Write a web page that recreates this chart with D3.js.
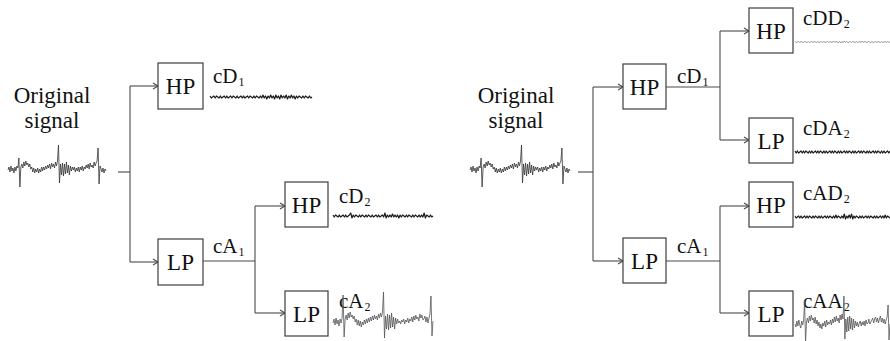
<!DOCTYPE html>
<html>
<head>
<script src="https://cdn.jsdelivr.net/npm/d3@7"></script>
</head>
<body style="margin:0">
<svg id="chart" width="890" height="341"></svg>
<script>
// ---- signal samples (amplitude units, baseline = 0) ----
const originalSignal = [0,3,-2,4,-1,2,-3,3,-1,4,
  2,12,-17,3,6,2,8,4,9,5,
  7,3,6,1,3,-2,2,-3,1,-2,
  2,-3,1,-2,3,-1,3,0,4,1,
  5,2,6,1,7,3,6,2,8,4,
  9,25,-13,6,-5,7,-6,6,-4,8,
  -3,5,-5,4,-1,3,0,3,-2,2,
  -1,3,-2,3,0,4,-1,3,1,5,
  2,6,1,7,3,5,2,8,4,7,
  9,22,-14,4,1,-2,2,-3,1,-1];

const cA2 = [0,4,-2,5,-1,3,-3,4,0,5,
  28,-14,4,8,3,10,5,11,6,8,
  4,7,1,4,-2,3,-3,2,-4,1,
  -2,3,-1,4,0,5,1,6,2,7,
  3,8,4,7,3,9,5,10,6,11,
  31,-15,7,-6,9,-7,8,-5,10,-4,
  6,-6,5,-1,4,0,2,-1,3,1,
  4,-1,3,1,5,0,4,2,6,1,
  7,3,8,4,6,2,9,5,8,3,
  4,7,1,6,0,5,9,27,-13,2];

const cAA2 = [1,-2,4,-1,5,0,-3,4,0,5,
  24,-17,3,7,2,9,4,10,5,7,
  2,8,1,5,-1,3,-3,1,-4,2,
  -1,4,-2,5,0,3,1,5,0,6,
  2,8,3,9,4,7,2,10,5,11,
  6,29,-14,6,-7,8,-6,9,-4,7,
  -5,6,-3,4,-1,3,-2,2,4,-1,
  3,0,4,-1,5,1,2,6,1,3,
  5,7,2,6,8,3,7,2,6,9,
  3,7,2,6,1,5,8,20,-15,1];

const cD1 = [1,-1,0,1,-1,1,0,-1,1,-1,
  0,1,-1,1,-1,0,1,-1,1,0,
  -1,1,-1,0,1,-1,1,-1,0,1,
  -1,1,0,-1,1,-1,1,0,-1,1,
  -1,2,-1,1,-2,1,-1,2,-1,1,
  -2,2,-1,1,-2,2,-1,1,-1,2,
  -2,1,-1,2,-1,1,-2,1,-1,1,
  0,-1,1,-1,1,0,-1,1,-1,0];

const cD2 = [1,-1,1,0,-1,1,-1,0,1,-1,
  1,-1,0,1,3,-2,1,-1,1,0,
  -1,1,-1,1,0,-1,1,-1,1,0,
  -1,1,-1,0,1,-1,1,-1,0,1,
  -1,3,-2,1,-1,1,-1,2,-1,1,
  -1,1,-2,1,-1,1,0,-1,1,-1,
  1,0,-1,1,-1,1,0,-1,1,-1,
  1,-1,3,-2,1,0,-1,1,-1,0];

const cDD2 = [0.5,-0.5,0,0.5,-0.5,0.5,0,-0.5,0.5,0,
  -0.5,0.5,-0.5,0,0.5,-0.5,0.5,0,-0.5,0.5,
  -0.5,0,0.5,-0.5,0.5,-0.5,0,0.5,-0.5,0.5,
  0,-0.5,1,-0.5,0.5,0,-0.5,0.5,-1,0.5,
  -0.5,1,-0.5,0.5,-0.5,0,0.5,-0.5,0.5,0,
  -0.5,0.5,-0.5,0,0.5,-0.5,1,-0.5,0.5,0,
  -0.5,0.5,0,-0.5,0.5,-0.5,0,0.5,-0.5,0.5,
  0,-0.5,0.5,-0.5,0,0.5,-0.5,0.5,0,-0.5];

const cDA2 = [1,-1,1,-1,0,1,-1,1,-1,1,
  0,-1,1,-1,1,-1,0,1,-1,1,
  -1,1,0,-1,1,-1,1,-1,0,1,
  -1,1,-1,1,0,-1,1,-1,1,-1,
  0,1,-1,1,-1,1,0,-1,1,-1,
  1,-1,0,1,-1,1,-1,1,0,-1,
  1,-1,1,-1,0,1,-1,1,-1,1,
  0,-1,1,-1,1,-1,0,1,-1,1];

const cAD2 = [1,-1,0,1,-1,1,-1,0,1,-1,
  1,-1,1,0,-1,1,-1,1,0,-1,
  1,-1,1,-1,0,1,-1,1,-1,1,
  0,-1,1,-1,2,-1,1,0,-1,1,
  -1,3,-2,1,-1,2,-1,3,-2,1,
  -1,1,0,-1,1,-1,1,-1,0,1,
  -1,1,-1,1,0,-1,1,-1,1,-1,
  0,1,-1,1,-1,2,-1,1,0,-1];

// ---- drawing ----
const svg = d3.select("#chart");
const ink = "#111";
const wire = "#4a4a4a";

// one waveform: samples spread over [x0,x1], baseline at yc
function waveform(values, x0, x1, yc, color, width) {
  const x = d3.scaleLinear().domain([0, values.length - 1]).range([x0, x1]);
  const y = d3.scaleLinear().domain([-1, 1]).range([yc + 1, yc - 1]);
  svg.append("path")
    .datum(values)
    .attr("fill", "none")
    .attr("stroke", color)
    .attr("stroke-width", width)
    .attr("stroke-linejoin", "round")
    .attr("d", d3.line().x((d, i) => x(i)).y(d => y(d)));
}

function addText(x, y, size, str, anchor) {
  const t = svg.append("text")
    .attr("x", x).attr("y", y)
    .attr("font-size", size)
    .attr("fill", ink)
    .attr("text-anchor", anchor || "start")
    .style("font-family", "Liberation Serif");
  if (str !== null) t.text(str);
  return t;
}

function box(x0, y0, x1, y1, label) {
  svg.append("rect")
    .attr("x", x0).attr("y", y0)
    .attr("width", x1 - x0).attr("height", y1 - y0)
    .attr("fill", "#fff").attr("stroke", "#3c3c3c").attr("stroke-width", 1.2);
  addText((x0 + x1) / 2, (y0 + y1) / 2 + 8, 23, label, "middle");
}

function wirePath(points) {
  svg.append("path")
    .attr("d", d3.line()(points))
    .attr("fill", "none").attr("stroke", wire).attr("stroke-width", 1.1);
}

function arrow(x0, x1, y) {
  wirePath([[x0, y], [x1, y]]);
  wirePath([[x1 - 5, y - 3], [x1, y], [x1 - 5, y + 3]]);
}

function coeffLabel(x, y, main, sub) {
  const t = addText(x, y, 21, null);
  t.append("tspan").text(main);
  t.append("tspan").attr("font-size", 12).attr("dy", 3).attr("dx", 1).text(sub);
}

function titleText(cx) {
  addText(cx, 103, 23, "Original", "middle");
  addText(cx, 128, 23, "signal", "middle");
}

// ===== Left: two-level wavelet decomposition =====
titleText(52);
waveform(originalSignal, 8, 106, 170, "#333", 0.8);
wirePath([[118, 172], [130, 172]]);
wirePath([[130, 86], [130, 262]]);
arrow(130, 158, 86);
arrow(130, 158, 262);
box(158, 63, 203, 109, "HP");
box(158, 239, 203, 285, "LP");
coeffLabel(213, 83, "cD", "1");
waveform(cD1, 210, 312, 97, "#1a1a1a", 1.2);

wirePath([[203, 261], [255, 261]]);
coeffLabel(213, 253, "cA", "1");
wirePath([[255, 206], [255, 313]]);
arrow(255, 285, 206);
arrow(255, 285, 313);
box(285, 182, 328, 227, "HP");
box(285, 291, 328, 336, "LP");
coeffLabel(339, 203, "cD", "2");
waveform(cD2, 333, 433, 216, "#1a1a1a", 1.2);
coeffLabel(339, 308, "cA", "2");
waveform(cA2, 333, 433, 323, "#555", 0.8);

// ===== Right: full wavelet packet tree =====
titleText(516);
waveform(originalSignal, 470, 570, 170, "#333", 0.8);
wirePath([[578, 172], [593, 172]]);
wirePath([[593, 87], [593, 261]]);
arrow(593, 623, 87);
arrow(593, 623, 261);
box(623, 64, 666, 109, "HP");
box(623, 238, 666, 283, "LP");

// detail branch
wirePath([[666, 87], [720, 87]]);
coeffLabel(677, 83, "cD", "1");
wirePath([[720, 31], [720, 140]]);
arrow(720, 749, 31);
arrow(720, 749, 140);
box(749, 8, 793, 53, "HP");
box(749, 118, 793, 163, "LP");
coeffLabel(803, 25, "cDD", "2");
waveform(cDD2, 795, 890, 42, "#777", 0.8);
coeffLabel(803, 135, "cDA", "2");
waveform(cDA2, 795, 890, 152, "#1a1a1a", 1.2);

// approximation branch
wirePath([[666, 261], [720, 261]]);
coeffLabel(677, 253, "cA", "1");
wirePath([[720, 206], [720, 313]]);
arrow(720, 749, 206);
arrow(720, 749, 313);
box(749, 182, 793, 227, "HP");
box(749, 291, 793, 336, "LP");
coeffLabel(803, 200, "cAD", "2");
waveform(cAD2, 795, 890, 217, "#1a1a1a", 1.2);
coeffLabel(803, 308, "cAA", "2");
waveform(cAA2, 795, 890, 325, "#555", 0.8);
</script>
</body>
</html>
